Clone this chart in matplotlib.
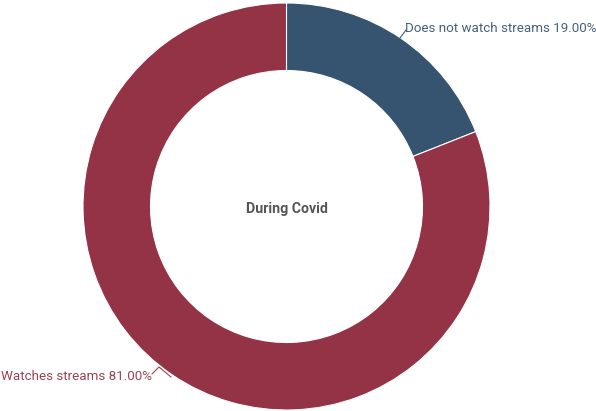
import matplotlib
matplotlib.use("Agg")
import matplotlib.pyplot as plt

labels = ["Does not watch streams", "Watches streams"]
values = [19.0, 81.0]
colors = ["#36536f", "#943346"]
text_colors = ["#46617c", "#9c4155"]
center_title = "During Covid"

W, H = 596, 411
fig = plt.figure(figsize=(W / 100, H / 100), dpi=100)
ax = fig.add_axes([0, 0, 1, 1])

cx, cy, R = 286.5, 206.5, 203.5
width = 67.5

# axes y is flipped (screen coords): start at screen top, go clockwise on screen
ax.pie(values, colors=colors, startangle=-90, counterclock=True,
       center=(cx, cy), radius=R, frame=True,
       wedgeprops=dict(width=width, edgecolor="white", linewidth=0.8))
ax.set_xlim(0, W)
ax.set_ylim(H, 0)
ax.set_aspect("equal")
ax.axis("off")

font = "Roboto"
ax.text(cx, cy + 2, center_title, ha="center", va="center", fontsize=10.2,
        fontweight="bold", color="#555555", family=font)

# labels with leader lines
ax.plot([400, 406], [38, 30], color=text_colors[0], lw=0.8)
ax.text(405, 28, f"{labels[0]} {values[0]:.2f}%", ha="left", va="center",
        fontsize=9.6, color=text_colors[0], family=font)

ax.plot([152, 159, 171], [374, 367, 377], color=text_colors[1], lw=0.8)
ax.text(1, 376, f"{labels[1]} {values[1]:.2f}%", ha="left", va="center",
        fontsize=9.6, color=text_colors[1], family=font)

fig.savefig("out.png", dpi=100)
